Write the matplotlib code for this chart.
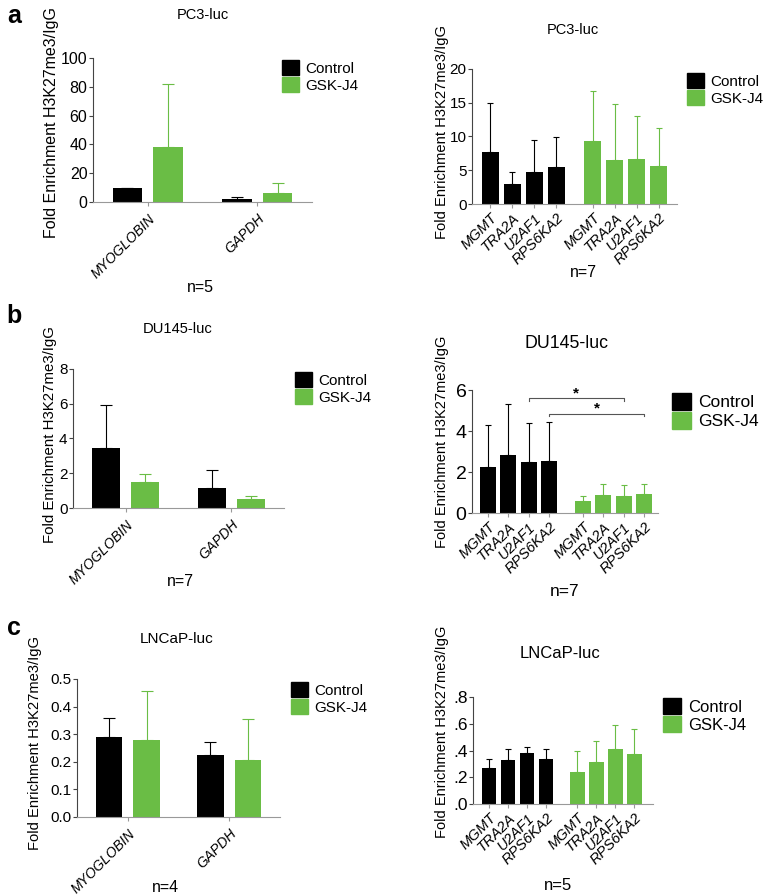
import matplotlib
matplotlib.use("Agg")
import matplotlib.pyplot as plt
from matplotlib.patches import Patch

plt.rcParams['font.family'] = ['Liberation Sans', 'DejaVu Sans']

GREEN = '#6abd45'
W, H = 765, 896

# ---- data ----
genes2 = ['MYOGLOBIN', 'GAPDH']
genes4 = ['MGMT', 'TRA2A', 'U2AF1', 'RPS6KA2']

pc3_ctrl = [10, 2]
pc3_ctrl_top = [10, 3.5]
pc3_gsk = [38, 6]
pc3_gsk_top = [82, 13]

pc3b_ctrl = [7.7, 3.0, 4.8, 5.5]
pc3b_ctrl_top = [14.9, 4.7, 9.5, 9.9]
pc3b_gsk = [9.3, 6.5, 6.6, 5.6]
pc3b_gsk_top = [16.7, 14.8, 13.0, 11.3]

du_ctrl = [3.45, 1.15]
du_ctrl_top = [5.95, 2.2]
du_gsk = [1.5, 0.5]
du_gsk_top = [1.95, 0.68]

dub_ctrl = [2.25, 2.83, 2.5, 2.55]
dub_ctrl_top = [4.3, 5.3, 4.37, 4.45]
dub_gsk = [0.58, 0.9, 0.82, 0.92]
dub_gsk_top = [0.85, 1.42, 1.35, 1.43]

ln_ctrl = [0.29, 0.225]
ln_ctrl_top = [0.36, 0.272]
ln_gsk = [0.28, 0.205]
ln_gsk_top = [0.455, 0.355]

lnb_ctrl = [0.27, 0.33, 0.38, 0.34]
lnb_ctrl_top = [0.335, 0.41, 0.425, 0.41]
lnb_gsk = [0.24, 0.315, 0.41, 0.375]
lnb_gsk_top = [0.395, 0.47, 0.59, 0.56]


def px_axes(x0, x1, ytop, ybot):
    return fig.add_axes([x0 / W, 1 - ybot / H, (x1 - x0) / W, (ybot - ytop) / H])


def ftext(x, y, s, **kw):
    fig.text(x / W, 1 - y / H, s, ha='center', va='center', **kw)


def style(ax, tick_fs, xpad=1):
    for s in ['top', 'right']:
        ax.spines[s].set_visible(False)
    ax.spines['left'].set_color('#444444')
    ax.spines['bottom'].set_color('#999999')
    ax.spines['left'].set_linewidth(0.8)
    ax.spines['bottom'].set_linewidth(0.8)
    ax.tick_params(axis='y', labelsize=tick_fs, length=3, width=0.8, color='#444444', pad=1)
    ax.tick_params(axis='x', length=3, width=0.8, color='#999999', pad=xpad)


def bars(ax, xs, vals, tops, color, width, cap):
    ax.bar(xs, vals, width=width, color=color, zorder=2)
    up = [t - v for t, v in zip(tops, vals)]
    ax.errorbar(xs, vals, yerr=[[0] * len(vals), up], fmt='none',
                ecolor=color, elinewidth=0.8, capsize=cap, capthick=0.8, zorder=1)


def legend(x, y, fs):
    handles = [Patch(color='black', label='Control'), Patch(color=GREEN, label='GSK-J4')]
    fig.legend(handles=handles, loc='upper left', bbox_to_anchor=(x / W, 1 - y / H),
               frameon=False, fontsize=fs, borderpad=0, borderaxespad=0,
               handlelength=1.1, handleheight=1.1, handletextpad=0.4, labelspacing=0.1)


def panel2(box, ctrl, ctrl_top, gsk, gsk_top, ylim, yticks, yfmt, tick_fs=11):
    ax = px_axes(*box)
    g = [0, 1]
    bars(ax, [i - 0.185 for i in g], ctrl, ctrl_top, 'black', 0.265, 4.5)
    bars(ax, [i + 0.185 for i in g], gsk, gsk_top, GREEN, 0.265, 4.5)
    ax.set_xlim(-0.5, 1.5)
    ax.set_ylim(*ylim)
    ax.set_yticks(yticks)
    ax.set_yticklabels([yfmt(t) for t in yticks])
    ax.set_xticks(g)
    ax.set_xticklabels(genes2, rotation=45, ha='right', rotation_mode='anchor',
                       style='italic', fontsize=10)
    style(ax, tick_fs, xpad=4)
    return ax


pos8 = [0, 1, 2, 3, 4.65, 5.65, 6.65, 7.65]


def panel8(box, ctrl, ctrl_top, gsk, gsk_top, ylim, yticks, ylabels, xlim, tick_fs=11):
    ax = px_axes(*box)
    bars(ax, pos8[:4], ctrl, ctrl_top, 'black', 0.77, 2.5)
    bars(ax, pos8[4:], gsk, gsk_top, GREEN, 0.77, 2.5)
    ax.set_xlim(*xlim)
    ax.set_ylim(*ylim)
    ax.set_yticks(yticks)
    ax.set_yticklabels(ylabels)
    ax.set_xticks(pos8)
    ax.set_xticklabels(genes4 + genes4, rotation=45, ha='right', rotation_mode='anchor',
                       style='italic', fontsize=10.5)
    style(ax, tick_fs, xpad=2)
    return ax


fig = plt.figure(figsize=(W / 100, H / 100), dpi=100)
ylab = 'Fold Enrichment H3K27me3/IgG'

# ---- a ----
panel2((93, 312, 58, 202), pc3_ctrl, pc3_ctrl_top, pc3_gsk, pc3_gsk_top,
       (0, 100), [0, 20, 40, 60, 80, 100], lambda t: str(t), tick_fs=11.5)
panel8((472, 677, 69, 204), pc3b_ctrl, pc3b_ctrl_top, pc3b_gsk, pc3b_gsk_top,
       (0, 20), [0, 5, 10, 15, 20], ['0', '5', '10', '15', '20'], (-0.84, 8.48))
ftext(14, 16, 'a', fontsize=18, fontweight='bold')
ftext(203, 15, 'PC3-luc', fontsize=10.5)
ftext(573, 30, 'PC3-luc', fontsize=10.5)
ftext(52, 123, ylab, rotation=90, fontsize=11.5)
ftext(442, 132, ylab, rotation=90, fontsize=10.6)
ftext(200, 287, 'n=5', fontsize=11.5)
ftext(583, 272, 'n=7', fontsize=11.5)
legend(282, 60, 11)
legend(687, 73, 11)

# ---- b ----
panel2((73, 284, 369, 508), du_ctrl, du_ctrl_top, du_gsk, du_gsk_top,
       (0, 8), [0, 2, 4, 6, 8], lambda t: str(t))
axb = panel8((472, 658, 390, 513), dub_ctrl, dub_ctrl_top, dub_gsk, dub_gsk_top,
             (0, 6), [0, 2, 4, 6], ['0', '2', '4', '6'], (-0.78, 8.33), tick_fs=14)
for x1, x2, yl, ys in [(2, 6.65, 5.6, 5.85), (3, 7.65, 4.83, 5.1)]:
    axb.plot([x1, x1, x2, x2], [yl - 0.12, yl, yl, yl - 0.12], color='#555555', lw=0.8,
             clip_on=False)
    axb.text((x1 + x2) / 2, ys, '*', ha='center', va='center', fontsize=11,
             fontweight='bold')
ftext(14, 316, 'b', fontsize=18, fontweight='bold')
ftext(178, 329, 'DU145-luc', fontsize=10.6)
ftext(567, 343, 'DU145-luc', fontsize=12.8)
ftext(50, 435, ylab, rotation=90, fontsize=10.8)
ftext(442, 442, ylab, rotation=90, fontsize=10.5)
ftext(180, 582, 'n=7', fontsize=11.5)
ftext(565, 592, 'n=7', fontsize=12.5)
legend(295, 372, 11)
legend(672, 393, 12.5)

# ---- c ----
panel2((77, 280, 679, 817), ln_ctrl, ln_ctrl_top, ln_gsk, ln_gsk_top,
       (0, 0.5), [0, 0.1, 0.2, 0.3, 0.4, 0.5], lambda t: '%.1f' % t)
panel8((473, 653, 697, 804), lnb_ctrl, lnb_ctrl_top, lnb_gsk, lnb_gsk_top,
       (0, 0.8), [0, 0.2, 0.4, 0.6, 0.8], ['.0', '.2', '.4', '.6', '.8'], (-0.84, 8.63),
       tick_fs=12.5)
ftext(14, 628, 'c', fontsize=18, fontweight='bold')
ftext(177, 639, 'LNCaP-luc', fontsize=11)
ftext(560, 653, 'LNCaP-luc', fontsize=12)
ftext(35, 743, ylab, rotation=90, fontsize=10.6)
ftext(442, 732, ylab, rotation=90, fontsize=10.5)
ftext(165, 887, 'n=4', fontsize=11.5)
ftext(558, 885, 'n=5', fontsize=12)
legend(291, 682, 11)
legend(663, 698, 12)

fig.savefig('out.png', dpi=100)
